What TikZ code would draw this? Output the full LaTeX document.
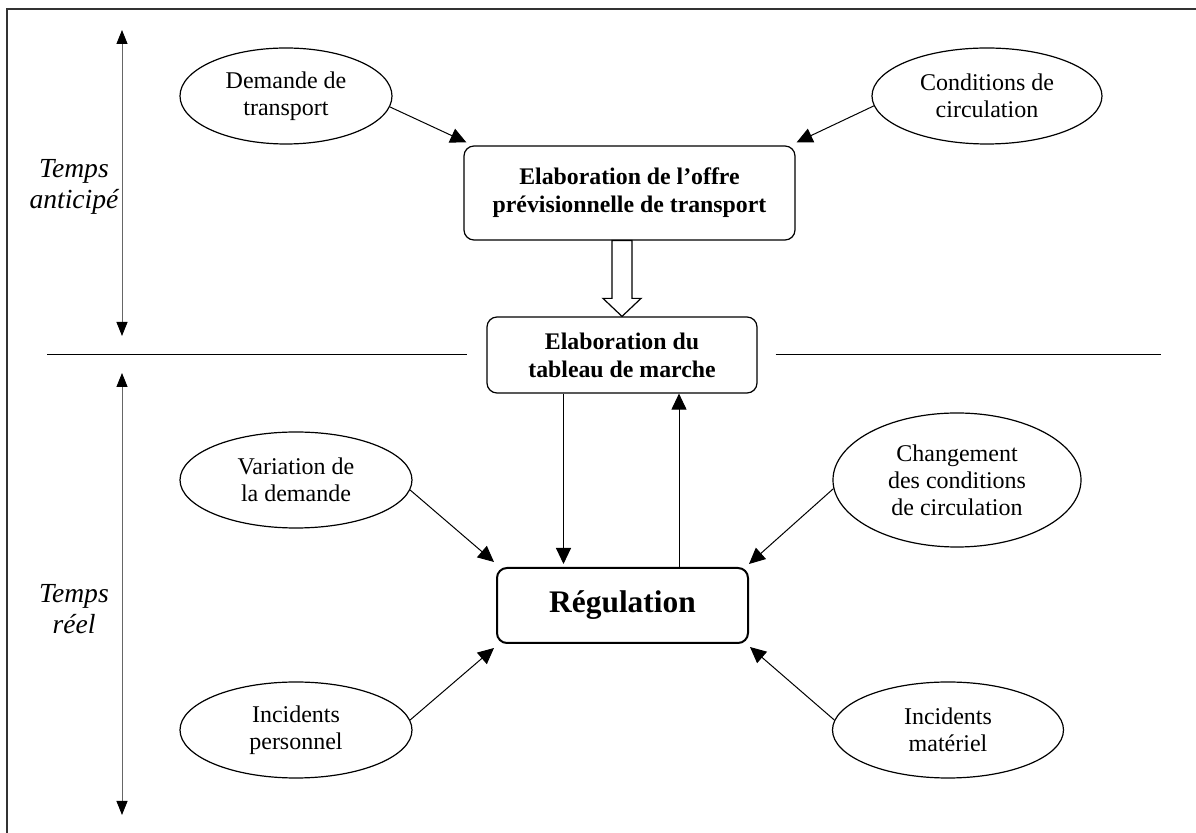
\documentclass[tikz,border=0pt]{standalone}
\usepackage{fontspec}
\setmainfont{Liberation Serif}
\usetikzlibrary{arrows.meta,shapes,positioning,calc}

\begin{document}
\begin{tikzpicture}
[x=.5pt,y=-.5pt,
    edge/.style={line width=.5pt,-{Triangle[length=8pt,width=7.5pt]}},
    timeline/.style={black!60,line width=.4pt,{Triangle[length=7pt,width=5.5pt,color=black]}-{Triangle[length=7pt,width=5.5pt,color=black]}},
    bubble/.style={ellipse,draw,line width=.6pt,align=center,inner sep=1pt,font=\fontsize{12}{13.5}\selectfont},
    task/.style={draw,rounded corners=5pt,line width=.6pt,align=center,font=\fontsize{11.9}{14}\selectfont\bfseries},
    explain/.style={align=center,font=\fontsize{13.8}{15.5}\selectfont\itshape},
    hollow/.style={draw,fill=white,line width=.6pt,line join=miter},
    sep/.style={line width=.5pt},
    frame/.style={line width=.7pt,black!80}]

\useasboundingbox (0,0) rectangle (1196,833);
\draw[frame] (1196,9) -- (7,9) -- (7,833);

%% central boxes
\node[task,minimum width=165.5pt,minimum height=47pt] (offre) at (629.5,193) {Elaboration de l’offre\\prévisionnelle de transport};
\node[task,minimum width=135pt,minimum height=38pt] (tableau) at (622,355) {Elaboration du\\tableau de marche};
\node[task,line width=1pt,minimum width=125.5pt,minimum height=37.5pt,
  font=\fontsize{15.7}{18}\selectfont\bfseries] (regul) at (622.5,605.5) {Régulation};

%% inputs
\node[bubble,minimum width=106pt,minimum height=48pt] (demande) at (286,96) {Demande de\\transport};
\node[bubble,minimum width=115pt,minimum height=48pt] (conditions) at (987,96) {Conditions de\\circulation};
\node[bubble,minimum width=116pt,minimum height=48pt] (variation) at (296,480) {Variation de\\la demande};
\node[bubble,minimum width=124pt,minimum height=67pt] (changement) at (957,480) {Changement\\des conditions\\de circulation};
\node[bubble,minimum width=116pt,minimum height=48pt] (perso) at (296,730) {Incidents\\personnel};
\node[bubble,minimum width=115.5pt,minimum height=48pt] (materiel) at (948,730) {Incidents\\matériel};

\draw[edge] (demande.-6) -- ([shift={(3,-3)}]offre.north west);
\draw[edge] (conditions.185) -- ([shift={(1,-3)}]offre.north east);
\draw[edge] (variation.-5) -- ([shift={(-2,-5)}]regul.north west);
\draw[edge] (changement.184) -- ([shift={(0,-3)}]regul.north east);
\draw[edge] (perso.5) -- ([shift={(-2,4)}]regul.south west);
\draw[edge] (materiel.175) -- ([shift={(1,3)}]regul.south east);

%% hollow arrow
\coordinate (hb) at ([yshift=9pt]tableau.north);
\coordinate (sl) at ([xshift=-5pt]hb);
\coordinate (sr) at ([xshift=5pt]hb);
\draw[hollow] (tableau.north) -- ([xshift=-9.5pt]hb) -- (sl) -- (sl |- offre.south)
  -- (sr |- offre.south) -- (sr) -- ([xshift=9.5pt]hb) -- cycle;

%% loop
\coordinate (down) at ([xshift=-29.25pt]tableau.south);
\coordinate (up) at ([xshift=28.25pt]regul.north);
\draw[edge,shorten >=1.5pt] (down) -- (down |- regul.north);
\draw[edge] (up) -- (up |- tableau.south);

%% time axis
\coordinate (t1) at (122,30);
\coordinate (t2) at (122,336);
\coordinate (t3) at (122,373);
\coordinate (t4) at (122,815);
\draw[timeline] (t1) -- (t2);
\draw[timeline] (t3) -- (t4);
\node[explain] (anticipe) at (74,187) {Temps\\anticipé};
\node[explain] (reel) at (74,609) {Temps\\réel};

%% separator
\coordinate (sepL) at (47,355);
\coordinate (sepR) at (1161,355);
\draw[sep] (sepL) -- ([xshift=-9.5pt]tableau.west);
\draw[sep] ([xshift=9pt]tableau.east) -- (sepR);

\end{tikzpicture}
\end{document}
